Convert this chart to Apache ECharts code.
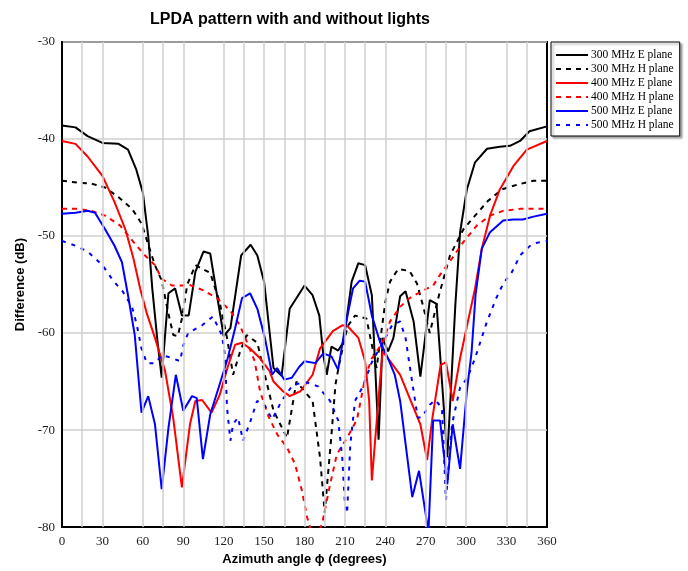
<!DOCTYPE html>
<html>
<head>
<meta charset="utf-8">
<script src="https://cdn.jsdelivr.net/npm/echarts@6/dist/echarts.min.js"></script>
<style>html,body{margin:0;padding:0;background:#fff;}#c{width:688px;height:571px;}</style>
</head>
<body>
<div id="c"></div>
<script>
var titleText = 'LPDA pattern with and without lights';
var xName = 'Azimuth angle \u03D5 (degrees)';
var yName = 'Difference (dB)';
var xTicks = [0, 30, 60, 90, 120, 150, 180, 210, 240, 270, 300, 330, 360];
var yTicks = [-30, -40, -50, -60, -70, -80];
var gridDeg = [15, 30, 60, 75, 90, 120, 135, 150, 165, 180, 195, 210, 225, 240, 270, 285, 300, 330, 345];
var seriesNames = ['300 MHz E plane', '300 MHz H plane', '400 MHz E plane', '400 MHz H plane', '500 MHz E plane', '500 MHz H plane'];

var e300 = [[0,-38.6],[10,-38.8],[19,-39.7],[30,-40.4],[42,-40.5],[49,-41.1],[55,-43.1],[60,-45.5],[64,-50],[67,-55.4],[71,-61],[74,-64.6],[79,-55.9],[84,-55.4],[89,-58.2],[94,-58.2],[99,-53.7],[105,-51.6],[110,-51.8],[120,-60.3],[125,-59.5],[133,-52],[140,-50.9],[145,-52],[150,-54.7],[157,-63.6],[163,-64.4],[169,-57.5],[180,-55.1],[186,-56.1],[191,-58.2],[194,-62.3],[196.5,-64.3],[200,-61.4],[205,-61.8],[209,-60.9],[215,-54.7],[220,-52.8],[225,-53],[230,-56.1],[235,-71],[238,-60.5],[242,-61.9],[246,-60.5],[251,-56.2],[255,-55.7],[261,-58.8],[266,-64.5],[273,-56.6],[278,-57],[286,-72.8],[289,-65],[292,-57],[295.5,-49.6],[300.5,-45.2],[306.6,-42.4],[315.5,-41],[325,-40.8],[332.5,-40.7],[340,-40.2],[347,-39.2],[360,-38.7]];
var h300 = [[0,-44.3],[12,-44.5],[22,-44.6],[32,-45],[42,-46],[52,-47.2],[59,-48.7],[65,-51.3],[69,-53],[74,-54.6],[79,-58],[82.6,-60.2],[86,-60.3],[89,-58.5],[93,-55],[99,-53],[110,-53.8],[117,-56.8],[122.5,-60.5],[127,-64.3],[132,-62],[137,-60.2],[145,-61],[150,-64],[157,-68],[162,-69.4],[167,-70.8],[174,-65],[180,-66],[186,-67],[191.5,-72.8],[195,-78.5],[200,-70.5],[203,-65.3],[206,-63],[212,-59.3],[217.5,-58.2],[226,-58.5],[233.5,-63.6],[240,-56.8],[243.5,-54.7],[249.5,-53.4],[258,-53.6],[263.5,-54.9],[268,-57.2],[273,-60],[280,-56],[288,-52],[298,-49.3],[306.6,-47.9],[316,-46.4],[326.5,-45.2],[338,-44.7],[350,-44.3],[360,-44.3]];
var e400 = [[0,-40.2],[10,-40.5],[19,-41.8],[30,-43.8],[39,-46.5],[47,-49.3],[53,-52.3],[58,-55.4],[63,-58],[69,-60.5],[76.5,-63.9],[82.5,-68.7],[89,-75.9],[95,-69.4],[99,-67],[104,-66.9],[111,-68.2],[117,-66.4],[123,-63.5],[128.5,-61.2],[133.6,-61],[139.6,-61.6],[147,-62.6],[154,-63.9],[157,-65],[164,-66],[169,-66.5],[177,-66],[186,-64.3],[191.5,-61.6],[201,-59.8],[208,-59.2],[212,-59.3],[220,-60.5],[225,-62.9],[228,-67],[230,-75.2],[236,-65],[238,-61.9],[243.5,-62.9],[251,-64.3],[261,-67.7],[266,-69.4],[271,-73.1],[275,-68.7],[281,-63.3],[285,-63],[290,-67],[295.5,-62.6],[301,-59],[306.6,-55.4],[311.6,-51.3],[317.7,-47.9],[325,-45.2],[335,-42.8],[345,-41.1],[360,-40.2]];
var h400 = [[0,-47.2],[12,-47.2],[22,-47.4],[32,-47.9],[43,-48.9],[53,-50.6],[61.6,-52],[69,-53],[74,-54.4],[81.6,-55.1],[90,-55.1],[94,-55],[105,-55.6],[115,-56.4],[125,-57.7],[132,-59.2],[136,-60.5],[143,-62.9],[147,-66],[153,-68.5],[160,-70.5],[167,-71.8],[173,-73.5],[178,-76.2],[182,-79],[187,-81.5],[193,-79.7],[199,-75.6],[204,-72.5],[211.6,-70.8],[219,-68.9],[225,-64.6],[230,-62.6],[238,-61],[243.5,-58.8],[251,-57.3],[258,-56.4],[267,-55.7],[275.5,-55.1],[280.6,-54],[289.5,-52.3],[298,-50.6],[308,-48.9],[317.7,-47.9],[327.5,-47.4],[340,-47.2],[360,-47.2]];
var e500 = [[0,-47.7],[10,-47.6],[19,-47.4],[24.5,-47.6],[32,-49.3],[39,-51],[44.5,-52.7],[49,-56.1],[54,-60.2],[59,-68.2],[64,-66.5],[69,-69.4],[74,-76.1],[79,-69.8],[84.5,-64.3],[90,-68],[96.5,-66.5],[100,-66.7],[104.6,-73],[110,-68.4],[117,-65.3],[123,-62.6],[128.5,-59.5],[133.6,-56.4],[139.6,-55.9],[145,-57.5],[150.6,-60.5],[156,-64.3],[159.6,-63.6],[165,-64.8],[170.6,-64.6],[176,-63.5],[180,-62.9],[188,-63.1],[194,-62.1],[200,-62.4],[205,-63.8],[210,-59.5],[216,-55.4],[221,-54.6],[225,-54.7],[230,-58.2],[236,-60.9],[242,-62.6],[247,-64.3],[251,-67],[260,-76.9],[265,-74.2],[272,-80.5],[275.5,-69],[280.6,-69],[286,-75.6],[290,-69.4],[295.5,-74],[300.5,-66],[304,-62],[307,-56],[311.6,-51.3],[317.7,-49.6],[327.5,-48.4],[335,-48.3],[342,-48.3],[350,-48],[360,-47.7]];
var h500 = [[0,-50.5],[10,-51],[19,-51.6],[30,-53],[38,-54.6],[45,-55.7],[52,-57.3],[55.6,-59.2],[59,-61.6],[63,-63.1],[69,-63.1],[74,-62.3],[80,-62.5],[87.6,-62.9],[90,-61.3],[93.6,-60],[104,-59.2],[112,-58.3],[118.7,-60.2],[121,-62.3],[122.5,-67.7],[125,-71.1],[127,-69.4],[130.6,-68.7],[134.4,-71.1],[139.6,-69.2],[144.8,-67],[150.7,-67.5],[156,-68.9],[163,-67],[171.5,-65.3],[182,-65.1],[190,-65.5],[199,-67],[205,-69],[208,-72.8],[210,-77.6],[211.6,-78.6],[214,-71.5],[217.5,-67],[223,-65.6],[230,-63],[240,-60.5],[245,-59.2],[251,-58.8],[255,-60.5],[258,-63.3],[264,-68.7],[267,-68.7],[273,-67.4],[277,-66.9],[282,-67.7],[285,-77.2],[289.5,-69.4],[295.5,-65.6],[301,-64.6],[306.6,-62.6],[315,-59],[322,-56.5],[327.5,-54.9],[334,-53.7],[340,-52],[349,-50.8],[360,-50.5]];

var allData = [e300, h300, e400, h400, e500, h500];
var colors = ['#000000', '#000000', '#ff0000', '#ff0000', '#0000ff', '#0000ff'];
var dashes = ['solid', [5, 5], 'solid', [5, 5], 'solid', [4, 6]];

var chart = echarts.init(document.getElementById('c'), null, {renderer: 'canvas'});
var series = allData.map(function (d, i) {
  return {
    name: seriesNames[i], type: 'line', data: d, symbol: 'none', showSymbol: false, clip: true,
    lineStyle: {color: colors[i], width: 2, type: dashes[i]},
    itemStyle: {color: colors[i]}, z: 3
  };
});
series.push({
  type: 'line', data: [], silent: true, z: 1,
  markLine: {
    silent: true, symbol: ['none', 'none'], label: {show: false},
    lineStyle: {color: '#cfcfcf', width: 1.5, type: 'solid'},
    data: gridDeg.map(function (v) { return {xAxis: v}; })
  }
});
var option = {
  animation: false,
  backgroundColor: '#fff',
  title: {
    text: titleText, left: 285, top: 7, textAlign: 'center',
    textStyle: {fontFamily: 'Liberation Sans, Arial, sans-serif', fontWeight: 'bold', fontSize: 16, color: '#000'}
  },
  grid: {left: 62, right: 141, top: 42, bottom: 41, show: true, borderColor: '#000', borderWidth: 2, backgroundColor: 'transparent'},
  legend: {
    data: seriesNames, orient: 'vertical', left: 551, top: 42,
    borderColor: '#000', borderWidth: 1, padding: [7, 6, 5, 4],
    itemWidth: 32, itemHeight: 10, itemGap: 2,
    itemStyle: {opacity: 0},
    shadowColor: 'rgba(0,0,0,0.35)', shadowOffsetX: 2, shadowOffsetY: 2, shadowBlur: 2, backgroundColor: '#fff',
    textStyle: {fontFamily: 'Liberation Serif, Times New Roman, serif', fontSize: 11.5, color: '#000', padding: [0, 0, 0, -2]}
  },
  xAxis: {
    type: 'value', min: 0, max: 360, interval: 30,
    name: xName, nameLocation: 'middle', nameGap: 21,
    nameTextStyle: {fontFamily: 'Liberation Sans, Arial, sans-serif', fontWeight: 'bold', fontSize: 13, color: '#000'},
    axisLine: {show: true, lineStyle: {color: '#000', width: 2}},
    axisTick: {show: false},
    splitLine: {show: false},
    axisLabel: {fontFamily: 'Liberation Serif, Times New Roman, serif', fontSize: 13, color: '#222', margin: 8}
  },
  yAxis: {
    type: 'value', min: -80, max: -30, interval: 10,
    name: yName, nameLocation: 'middle', nameGap: 30, nameRotate: 90,
    nameTextStyle: {fontFamily: 'Liberation Sans, Arial, sans-serif', fontWeight: 'bold', fontSize: 13, color: '#000'},
    axisLine: {show: true, lineStyle: {color: '#000', width: 2}},
    axisTick: {show: false},
    splitLine: {show: true, lineStyle: {color: '#cfcfcf', width: 1.5}},
    axisLabel: {fontFamily: 'Liberation Serif, Times New Roman, serif', fontSize: 13, color: '#222', margin: 7}
  },
  series: series
};
chart.setOption(option);
</script>
</body>
</html>
